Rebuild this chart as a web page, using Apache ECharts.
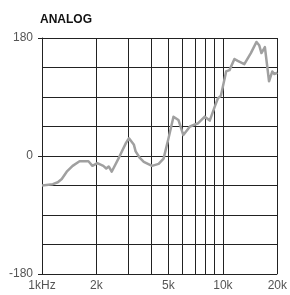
<!DOCTYPE html>
<html>
<head>
<meta charset="utf-8">
<script src="https://cdn.jsdelivr.net/npm/echarts@6/dist/echarts.min.js"></script>
<style>
  html, body { margin: 0; padding: 0; background: #fff; }
  #chart { width: 290px; height: 295px; }
</style>
</head>
<body>
<div id="chart"></div>
<script>
// phase response
var freq = [1000, 1148, 1223, 1286, 1370, 1477, 1613, 1806, 1900, 2023,
    2182, 2266, 2338, 2428, 2668, 2914, 3026, 3223, 3293, 3475,
    3654, 4057, 4414, 4700, 5006, 5332, 5677, 6045, 6577, 7302,
    7943, 8460, 9008, 9391, 9750, 10424, 10880, 11584, 12079, 13140,
    14277, 15343, 15871, 16338, 17073, 17996, 18759, 19240, 20000];
var phase = [-45, -43, -40, -35, -24, -15, -8, -8, -15, -11,
    -15, -19, -16, -24, -2, 20, 27, 17, 7, -3,
    -9, -15, -12, -4, 27, 60, 55, 32, 45, 50,
    60, 54, 75, 88, 92, 129, 131, 148, 145, 140,
    157, 174, 169, 157, 166, 114, 129, 125, 127];

var gridFreqs = [1000, 2000, 3000, 4000, 5000, 6000, 7000, 8000, 9000, 10000, 20000];
var labelFreqs = [1000, 2000, 5000, 10000, 20000];
var labelText = { 1000: '1kHz', 2000: '2k', 5000: '5k', 10000: '10k', 20000: '20k' };

var chart = echarts.init(document.getElementById('chart'));
var font = 'Liberation Sans, Arial, sans-serif';
var points = freq.map(function (f, i) { return [f, phase[i]]; });

chart.setOption({
    animation: false,
    title: {
        text: 'ANALOG',
        left: 40,
        top: 14,
        padding: 0,
        textStyle: { fontFamily: font, fontSize: 12, fontWeight: 'bold', color: '#111' }
    },
    grid: { left: 42, right: 10, top: 38, bottom: 21 },
    xAxis: {
        type: 'log',
        logBase: 10,
        min: 1000,
        max: 20000,
        axisLine: { show: true, lineStyle: { color: '#222', width: 1 } },
        axisTick: { show: true, length: 4, customValues: gridFreqs, lineStyle: { color: '#222' } },
        axisLabel: {
            customValues: labelFreqs,
            margin: 6,
            fontFamily: font,
            fontSize: 12,
            color: '#555',
            formatter: function (v) { return labelText[v] || ''; }
        },
        splitLine: { show: true, lineStyle: { color: '#222', width: 1 } },
        minorSplitLine: { show: false }
    },
    yAxis: [{
        type: 'value',
        min: -180,
        max: 180,
        interval: 45,
        axisLine: { show: true, lineStyle: { color: '#222' } },
        axisTick: { show: false },
        axisLabel: { show: false },
        splitLine: { show: true, lineStyle: { color: '#222', width: 1 } }
    }, {
        type: 'value',
        position: 'left',
        min: -180,
        max: 180,
        interval: 180,
        axisLine: { show: false },
        axisTick: { show: true, length: 4, lineStyle: { color: '#222' } },
        axisLabel: { margin: 9, fontFamily: font, fontSize: 12, color: '#555' },
        splitLine: { show: false }
    }],
    series: [{
        type: 'line',
        data: points,
        showSymbol: false,
        symbol: 'none',
        lineStyle: { color: '#a0a0a0', width: 2.5, join: 'round' }
    }]
});
</script>
</body>
</html>
